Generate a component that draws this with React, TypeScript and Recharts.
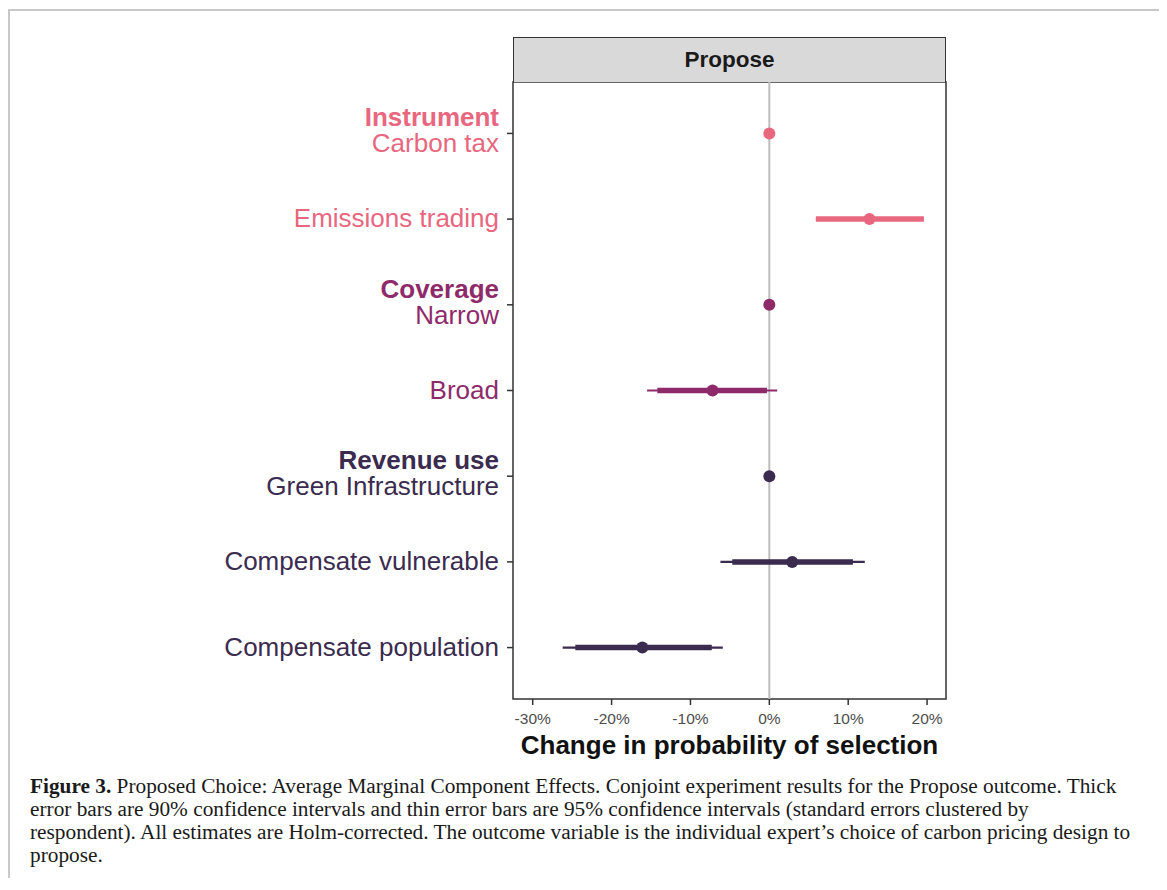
import React from "react";
import {
  ComposedChart,
  Scatter,
  ErrorBar,
  XAxis,
  YAxis,
  ReferenceLine,
  ReferenceArea,
} from "recharts";

// rows top to bottom
const levels = [
  "Carbon tax",
  "Emissions trading",
  "Narrow",
  "Broad",
  "Green Infrastructure",
  "Compensate vulnerable",
  "Compensate population",
];
const attributes = ["Instrument", "", "Coverage", "", "Revenue use", "", ""];
const groupOf = [0, 0, 1, 1, 2, 2, 2];

// AMCE in percentage points
const estimate = [0, 12.7, 0, -7.2, 0, 2.9, -16.1];
const lo90 = [0, 5.9, 0, -14.2, 0, -4.7, -24.6];
const hi90 = [0, 19.6, 0, -0.3, 0, 10.6, -7.3];
const lo95 = [0, 5.9, 0, -15.5, 0, -6.2, -26.2];
const hi95 = [0, 19.6, 0, 1.0, 0, 12.1, -5.9];

const xTicks = [-30, -20, -10, 0, 10, 20];
const groupColors = ["#E8677F", "#8E2A6A", "#3A2B4F"];

const rows = levels.map((level, i) => ({
  level,
  row: i,
  est: estimate[i],
  err90: [estimate[i] - lo90[i], hi90[i] - estimate[i]],
  err95: [estimate[i] - lo95[i], hi95[i] - estimate[i]],
  group: groupOf[i],
}));

const FONT = "'Liberation Sans', Arial, Helvetica, sans-serif";

function LevelTick(props: any) {
  const { x, y, payload } = props;
  const i = payload.value as number;
  const color = groupColors[groupOf[i]];
  const attr = attributes[i];
  if (attr) {
    return (
      <g>
        <text x={x} y={y - 7} textAnchor="end" fill={color} fontFamily={FONT} fontSize={26} fontWeight="bold">
          {attr}
        </text>
        <text x={x} y={y + 19} textAnchor="end" fill={color} fontFamily={FONT} fontSize={26}>
          {levels[i]}
        </text>
      </g>
    );
  }
  return (
    <text x={x} y={y + 8} textAnchor="end" fill={color} fontFamily={FONT} fontSize={26}>
      {levels[i]}
    </text>
  );
}

const caption = [
  "Proposed Choice: Average Marginal Component Effects. Conjoint experiment results for the Propose outcome. Thick",
  "error bars are 90% confidence intervals and thin error bars are 95% confidence intervals (standard errors clustered by",
  "respondent). All estimates are Holm-corrected. The outcome variable is the individual expert\u2019s choice of carbon pricing design to",
  "propose.",
];

export default function App() {
  return (
    <div style={{ position: "relative", width: 1151, height: 870 }}>
      <div
        style={{
          position: "absolute",
          left: 0,
          top: 1,
          width: 1154,
          height: 869,
          boxSizing: "border-box",
          borderTop: "2px solid #c8c8c8",
          borderLeft: "2px solid #c8c8c8",
          borderRight: "2px solid #c8c8c8",
        }}
      />
      <div style={{ position: "absolute", left: 0, top: 0 }}>
        <ComposedChart
          width={1150}
          height={770}
          data={rows}
          margin={{ top: 74, right: 212, bottom: 19, left: 205 }}
        >
          <XAxis
            type="number"
            dataKey="est"
            domain={[-32.5, 22.4]}
            ticks={xTicks}
            tickFormatter={(v: number) => `${v}%`}
            tick={{ fill: "#4d4d4d", fontSize: 15.5, fontFamily: FONT }}
            tickLine={{ stroke: "#333", strokeWidth: 1.5 }}
            tickSize={6}
            tickMargin={8}
            axisLine={false}
            height={60}
            label={{
              value: "Change in probability of selection",
              position: "insideBottom",
              offset: 5,
              fill: "#111",
              fontSize: 26,
              fontWeight: "bold",
              fontFamily: FONT,
            }}
          />
          <YAxis
            type="number"
            dataKey="row"
            domain={[-0.6, 6.6]}
            reversed
            ticks={[0, 1, 2, 3, 4, 5, 6]}
            interval={0}
            tick={<LevelTick />}
            tickLine={{ stroke: "#333", strokeWidth: 1.5 }}
            tickSize={6}
            tickMargin={8}
            axisLine={false}
            width={300}
          />
          <ReferenceLine x={0} stroke="#bdbdbd" strokeWidth={2} />
          {groupColors.map((color, g) => (
            <Scatter
              key={g}
              data={rows.filter((r) => r.group === g)}
              dataKey="est"
              fill={color}
              shape={(p: any) => <circle cx={p.cx} cy={p.cy} r={6} fill={color} />}
              isAnimationActive={false}
            >
              <ErrorBar dataKey="err95" direction="x" width={0} stroke={color} strokeWidth={2.2} isAnimationActive={false} />
              <ErrorBar dataKey="err90" direction="x" width={0} stroke={color} strokeWidth={5.5} isAnimationActive={false} />
            </Scatter>
          ))}
          <ReferenceArea
            x1={-32.5}
            x2={22.4}
            y1={-0.6}
            y2={6.6}
            fill="none"
            fillOpacity={0}
            stroke="#333"
            strokeWidth={1.5}
          />
        </ComposedChart>
      </div>
      <div
        style={{
          position: "absolute",
          left: 505,
          top: 29,
          width: 433,
          height: 45,
          boxSizing: "border-box",
          border: "1.5px solid #333",
          borderBottom: "none",
          background: "#d9d9d9",
          fontFamily: FONT,
          fontWeight: "bold",
          fontSize: 22.5,
          color: "#1a1a1a",
          display: "flex",
          alignItems: "center",
          justifyContent: "center",
        }}
      >
        Propose
      </div>
      <div
        style={{
          position: "absolute",
          left: 22,
          top: 767,
          fontFamily: "'Liberation Serif', 'Times New Roman', serif",
          fontSize: 21.3,
          lineHeight: "23px",
          color: "#1a1a1a",
          whiteSpace: "pre",
        }}
      >
        {caption.map((line, i) => (
          <div key={i}>
            {i === 0 ? <b>Figure 3. </b> : null}
            {line}
          </div>
        ))}
      </div>
    </div>
  );
}
